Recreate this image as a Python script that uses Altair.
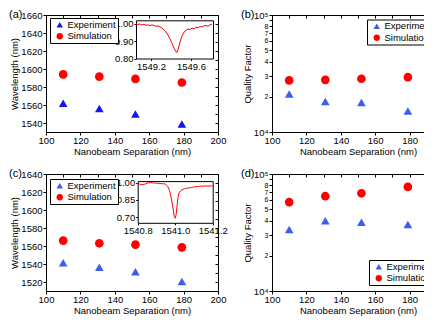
import altair as alt
import pandas as pd

# ---------------- data ----------------
separation = [110, 131, 152, 179]
series_names = ["Experiment", "Simulation"]

a_experiment = [1562, 1556, 1550, 1539]
a_simulation = [1594, 1591.5, 1589, 1585]
b_experiment = [21100, 18200, 17900, 15100]
b_simulation = [27600, 27900, 28500, 29400]
c_experiment = [1541.5, 1536.5, 1531.5, 1520.5]
c_simulation = [1566, 1563, 1561.5, 1558.5]
d_experiment = [33600, 39900, 38600, 37100]
d_simulation = [57500, 64600, 68400, 77600]

x_ticks = [100, 120, 140, 160, 180, 200]
x_minor = [100, 110, 120, 130, 140, 150, 160, 170, 180, 190, 200]
wl_ticks_a = [1540, 1560, 1580, 1600, 1620, 1640, 1660]
wl_minor_a = [1530, 1540, 1550, 1560, 1570, 1580, 1590, 1600, 1610, 1620, 1630, 1640, 1650, 1660]
wl_ticks_c = [1520, 1540, 1560, 1580, 1600, 1620, 1640]
wl_minor_c = [1510, 1520, 1530, 1540, 1550, 1560, 1570, 1580, 1590, 1600, 1610, 1620, 1630, 1640]
q_ticks = [10000, 20000, 30000, 40000, 50000, 60000, 70000, 80000, 90000, 100000]

inset_a_wavelength = [1549.05, 1549.07, 1549.09, 1549.11, 1549.13, 1549.15, 1549.17, 1549.19,
                      1549.21, 1549.23, 1549.25, 1549.27, 1549.29, 1549.31, 1549.33, 1549.35,
                      1549.37, 1549.39, 1549.41, 1549.43, 1549.45, 1549.46, 1549.47, 1549.49,
                      1549.51, 1549.53, 1549.55, 1549.57, 1549.59, 1549.61, 1549.63, 1549.65,
                      1549.67, 1549.69, 1549.71, 1549.73, 1549.75, 1549.77, 1549.79, 1549.81]
inset_a_transmission = [1.000, 0.996, 0.999, 0.993, 0.997, 0.991, 0.994, 0.988,
                        0.994, 0.990, 0.986, 0.988, 0.982, 0.975, 0.965, 0.952,
                        0.935, 0.912, 0.888, 0.860, 0.838, 0.836, 0.850, 0.895,
                        0.930, 0.952, 0.962, 0.970, 0.967, 0.975, 0.972, 0.980,
                        0.977, 0.984, 0.981, 0.988, 0.990, 0.986, 0.994, 0.998]

inset_c_wavelength = [1540.80, 1540.81, 1540.82, 1540.83, 1540.84, 1540.85, 1540.86, 1540.87,
                      1540.88, 1540.89, 1540.90, 1540.91, 1540.92, 1540.93, 1540.94, 1540.95,
                      1540.96, 1540.97, 1540.98, 1540.99, 1540.995, 1541.00, 1541.005, 1541.01,
                      1541.015, 1541.02, 1541.03, 1541.04, 1541.05, 1541.06, 1541.07, 1541.08,
                      1541.09, 1541.10, 1541.11, 1541.12, 1541.13, 1541.14, 1541.15, 1541.16,
                      1541.17, 1541.18, 1541.19, 1541.20]
inset_c_transmission = [0.990, 0.986, 0.984, 0.983, 0.988, 0.995, 0.998, 1.000,
                        0.998, 0.996, 0.994, 0.995, 0.992, 0.990, 0.990, 0.984,
                        0.968, 0.930, 0.860, 0.760, 0.705, 0.690, 0.720, 0.800,
                        0.870, 0.910, 0.930, 0.940, 0.946, 0.950, 0.953, 0.955,
                        0.959, 0.962, 0.965, 0.964, 0.968, 0.970, 0.968, 0.972,
                        0.970, 0.968, 0.972, 0.970]

# ---------------- style ----------------
FONT = "Liberation Sans"
FS = 9.5
W, H = 172, 117
RED = "#FF0000"
BLUE_A = "#1414F0"
BLUE = "#3D5CF2"


def points_df(exp, sim):
    return pd.DataFrame({
        "sep": separation * 2,
        "val": exp + sim,
        "series": [series_names[0]] * len(exp) + [series_names[1]] * len(sim),
    })


def panel(tag, tag_dx, exp, sim, ydom, ylog, yvals, yminor, ytitle,
          blue, leg_x, leg_y, inset=None):
    df = points_df(exp, sim)
    xsc = alt.Scale(domain=[100, 200], nice=False, zero=False)
    common_y = dict(orient="left", values=yvals, title=ytitle, domain=False, tickSize=3,
                    labelPadding=1, labelFlush=False, labelOverlap=False, titlePadding=1)
    if ylog:
        ysc = alt.Scale(type="log", domain=ydom, nice=False)
        yaxis = alt.Axis(
            **common_y,
            labelExpr=("datum.value == 10000 ? '10\u2074' : datum.value == 100000 ? '10\u2075' : "
                       "datum.value == 90000 ? '' : format(datum.value / 10000, 'd')"),
            labelFontSize={"condition": {"test": "datum.value == 10000 || datum.value == 100000",
                                         "value": FS}, "value": 7},
        )
    else:
        ysc = alt.Scale(domain=ydom, nice=False, zero=False)
        yaxis = alt.Axis(**common_y, format="d")
    xaxis = alt.Axis(orient="bottom", values=x_ticks, title="Nanobeam Separation (nm)",
                     domain=False, tickSize=3, labelPadding=0, labelFlush=False,
                     labelOverlap=False, titlePadding=2, format="d")
    legend = alt.Legend(orient="none", legendX=leg_x, legendY=leg_y, title=None,
                        strokeColor="black", fillColor="white", padding=2, rowPadding=0.5,
                        symbolSize=40, symbolStrokeWidth=0, symbolOffset=3, labelOffset=3,
                        labelFontSize=FS, labelFont=FONT, labelColor="black", cornerRadius=0)
    pts = alt.Chart(df).mark_point(filled=True, opacity=1, size=75).encode(
        x=alt.X("sep:Q", scale=xsc, axis=xaxis),
        y=alt.Y("val:Q", scale=ysc, axis=yaxis),
        color=alt.Color("series:N", scale=alt.Scale(domain=series_names, range=[blue, RED]),
                        legend=legend),
        shape=alt.Shape("series:N", scale=alt.Scale(domain=series_names,
                                                    range=["triangle-up", "circle"]),
                        legend=legend),
    )
    mirror = alt.Chart(df).mark_point(opacity=0).encode(
        x=alt.X("sep:Q", scale=xsc,
                axis=alt.Axis(orient="top", values=x_minor, labels=False, domain=False,
                              tickSize=3, offset=-3, title=None)),
        y=alt.Y("val:Q", scale=ysc,
                axis=alt.Axis(orient="right", values=yminor, labels=False, domain=False,
                              tickSize=3, offset=-3, title=None)),
    )
    layers = [pts, mirror]
    if inset is not None:
        (iwl, itr, ixdom, iydom, ix0, ix1, iy0, iy1, ixvals, iyvals) = inset
        idf = pd.DataFrame({"wl": iwl, "tr": itr})
        ixs = alt.Scale(domain=ixdom, range=[ix0, ix1], nice=False, zero=False)
        iys = alt.Scale(domain=iydom, range=[iy1, iy0], nice=False, zero=False)
        line = alt.Chart(idf).mark_line(color=RED, strokeWidth=1).encode(
            x=alt.X("wl:Q", scale=ixs,
                    axis=alt.Axis(orient="bottom", offset=iy1 - H, values=ixvals, format=".1f",
                                  title=None, tickSize=2, labelPadding=1, labelFlush=False,
                                  labelOverlap=False)),
            y=alt.Y("tr:Q", scale=iys,
                    axis=alt.Axis(orient="left", offset=-ix0, values=iyvals, format=".2f",
                                  title=None, tickSize=2, labelPadding=1, labelFlush=False,
                                  labelOverlap=False)),
        )
        frame = alt.Chart(idf).mark_line(opacity=0).encode(
            x=alt.X("wl:Q", scale=ixs,
                    axis=alt.Axis(orient="top", offset=-iy0, labels=False, ticks=False,
                                  title=None)),
            y=alt.Y("tr:Q", scale=iys,
                    axis=alt.Axis(orient="right", offset=ix1 - W, labels=False, ticks=False,
                                  title=None)),
        )
        layers += [line, frame]
    return alt.layer(*layers).resolve_scale(x="independent", y="independent").properties(
        width=W, height=H,
        title=alt.TitleParams(tag, anchor="start", frame="group", orient="top", dx=tag_dx,
                              offset=-8, dy=8, baseline="middle", fontSize=11,
                              fontWeight="normal", font=FONT, color="black"),
    )


pa = panel("(a)", -37, a_experiment, a_simulation, [1530, 1660], False, wl_ticks_a, wl_minor_a,
           "Wavelength (nm)", BLUE_A, 4, 3,
           inset=(inset_a_wavelength, inset_a_transmission, [1549.05, 1549.82], [0.80, 1.02],
                  90, 167, 5.3, 43.5, [1549.2, 1549.6], [0.80, 0.90, 1.00]))
pb = panel("(b)", -31, b_experiment, b_simulation, [10000, 100000], True, q_ticks, q_ticks,
           "Quality Factor", BLUE, 95, 4.5)
pc = panel("(c)", -37, c_experiment, c_simulation, [1510, 1640], False, wl_ticks_c, wl_minor_c,
           "Wavelength (nm)", BLUE, 4, 5,
           inset=(inset_c_wavelength, inset_c_transmission, [1540.8, 1541.2], [0.65, 1.013],
                  91.7, 166.7, 7.1, 48.8, [1540.8, 1541.0, 1541.2], [0.70, 0.85, 1.00]))
pd_ = panel("(d)", -31, d_experiment, d_simulation, [10000, 100000], True, q_ticks, q_ticks,
            "Quality Factor", BLUE, 97, 86)

chart = alt.concat(pa, pb, pc, pd_, columns=2, spacing={"row": 42, "column": 54},
                   bounds="flush").resolve_scale(
    color="independent", shape="independent").resolve_legend(
    color="independent", shape="independent").properties(
    padding={"left": 0, "top": 0, "right": -29, "bottom": 0},
    background="white",
).configure(font=FONT).configure_view(stroke="black", strokeWidth=1).configure_axis(
    labelFont=FONT, titleFont=FONT, labelFontSize=FS, titleFontSize=FS, labelColor="black",
    titleColor="black", tickColor="black", domainColor="black", grid=False,
    titleFontWeight="normal", tickWidth=1, domainWidth=1, minExtent=0,
).configure_title(font=FONT)

chart.save("out.html", embed_options={"renderer": "svg", "actions": False})
